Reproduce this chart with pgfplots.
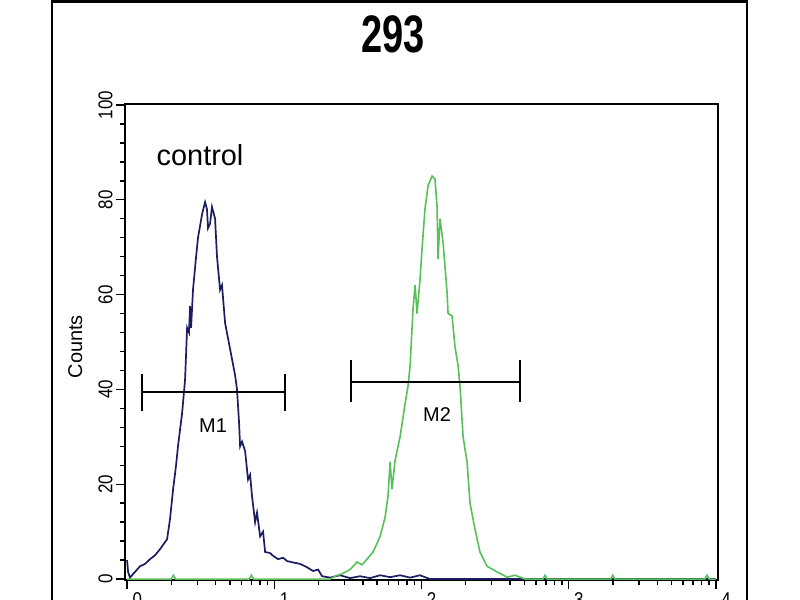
\documentclass[border=0pt]{standalone}
\usepackage{pgfplots}
\pgfplotsset{compat=1.18}
\usepackage{fontspec}
\setmainfont{Liberation Sans}
\newfontfamily\narrowfont[FakeStretch=0.85]{Liberation Sans}
\newfontfamily\titlefont[FakeStretch=0.72]{Liberation Sans}
\definecolor{ctrlblue}{RGB}{28,28,96}
\definecolor{posgreen}{RGB}{88,192,88}
\begin{document}
\begin{tikzpicture}
\path[use as bounding box] (0bp,0bp) rectangle (800bp,600bp);
\draw[line width=2.5bp] (52bp,-30bp) -- (52bp,598.5bp) -- (747bp,598.5bp) -- (747bp,-30bp);
\node[font=\titlefont\bfseries\fontsize{53}{60}\selectfont] at (393bp,566bp) {293};
\begin{axis}[
  at={(125bp,20bp)}, anchor=south west, scale only axis,
  width=593bp, height=476bp,
  xmin=-0.014, xmax=4.015, ymin=-0.2, ymax=100.2,
  axis line style={line width=1.6bp},
  xtick={0,1,2,3,4}, xticklabels={0,1,2,3,4},
  minor xtick={0.301,0.477,0.602,0.699,0.778,0.845,0.903,0.954,
               1.301,1.477,1.602,1.699,1.778,1.845,1.903,1.954,
               2.301,2.477,2.602,2.699,2.778,2.845,2.903,2.954,
               3.301,3.477,3.602,3.699,3.778,3.845,3.903,3.954},
  ytick={0,20,40,60,80,100},
  minor y tick num=4,
  tick align=outside, xtick pos=left, ytick pos=left,
  major tick length=9bp, minor tick length=5bp,
  tick style={black, line width=1.4bp},
  tick label style={font=\narrowfont\fontsize{20}{22}\selectfont},
  /pgf/number format/assume math mode=true,
  yticklabel style={rotate=90, anchor=south},
  xticklabel style={anchor=north west, xshift=2bp},
  ylabel={Counts},
  ylabel style={at={(axis description cs:-0.084,0.49)}, anchor=center, font=\fontsize{20}{22}\selectfont},
]
% control (blue)
\addplot[ctrlblue, line width=1.7bp] coordinates {
(0.000,4.0) (0.007,1.5) (0.020,0.3) (0.054,1.5) (0.088,2.7) (0.122,3.2) (0.156,4.2)
(0.190,5.0) (0.224,6.3) (0.251,7.5) (0.272,8.4) (0.292,12.7) (0.313,19) (0.333,24)
(0.346,28) (0.374,35) (0.394,42) (0.408,53) (0.421,52) (0.428,57.6) (0.435,53)
(0.448,61) (0.469,68) (0.482,72) (0.510,77) (0.530,79.5) (0.543,78) (0.550,74)
(0.564,75) (0.577,78.5) (0.598,76) (0.611,68) (0.632,61) (0.645,62) (0.666,54)
(0.700,48.5) (0.734,43) (0.747,40) (0.761,33) (0.768,28) (0.781,29) (0.802,27)
(0.822,21) (0.836,22) (0.849,17.5) (0.870,12) (0.883,14) (0.904,9) (0.924,10)
(0.938,5.7) (0.971,5.5) (0.992,4.9) (1.026,4.2) (1.060,4.5) (1.087,3.8) (1.128,3.5)
(1.175,3.2) (1.216,2.6) (1.264,1.7) (1.298,2.0) (1.325,0.6) (1.379,0.3) (1.447,0.8)
(1.515,0.2) (1.583,0.6) (1.651,0.2) (1.719,0.8) (1.787,0.4) (1.855,0.8) (1.923,0.3)
(1.990,0.8) (2.058,0) (2.534,0) (4.0,0)
};
% sample (green)
\addplot[posgreen, line width=1.6bp] coordinates {
(0.000,0) (0.300,0) (0.315,0.8) (0.330,0) (0.830,0) (0.845,0.8) (0.860,0) (1.380,0)
(1.413,0.6) (1.467,1.2) (1.515,2.0) (1.562,3.6) (1.596,3.0) (1.630,4.2) (1.671,5.7)
(1.698,7.5) (1.719,9) (1.753,13) (1.773,17.5) (1.787,24.7) (1.800,19) (1.821,25)
(1.834,27) (1.855,30) (1.889,37) (1.909,40.7) (1.923,45) (1.943,57) (1.957,62)
(1.970,56) (1.977,58.5) (1.990,63) (2.004,69.6) (2.024,78) (2.045,83) (2.072,85)
(2.092,84.4) (2.106,78.7) (2.113,67.5) (2.126,76) (2.147,71) (2.174,60.5) (2.181,56)
(2.208,55.5) (2.228,49) (2.249,45) (2.262,40.7) (2.283,30) (2.310,24.7) (2.330,16)
(2.364,10.5) (2.398,5.7) (2.446,2.7) (2.514,1.5) (2.582,0.4) (2.636,0.8) (2.704,0)
(2.825,0) (2.840,0.8) (2.855,0) (3.285,0) (3.300,0.8) (3.315,0) (3.925,0) (3.940,0.8)
(3.955,0) (4.0,0)
};
% M1 marker
\addplot[black, line width=1.6bp] coordinates {(0.102,39.4) (1.073,39.4)};
\addplot[black, line width=1.6bp] coordinates {(0.102,35.5) (0.102,43.2)};
\addplot[black, line width=1.6bp] coordinates {(1.073,35.5) (1.073,43.2)};
% M2 marker
\addplot[black, line width=1.6bp] coordinates {(1.522,41.6) (2.670,41.6)};
\addplot[black, line width=1.6bp] coordinates {(1.522,37.3) (1.522,46.2)};
\addplot[black, line width=1.6bp] coordinates {(2.670,37.3) (2.670,46.2)};
\node[font=\fontsize{20}{22}\selectfont] at (axis cs:0.584,32.3) {M1};
\node[font=\fontsize{20}{22}\selectfont] at (axis cs:2.106,34.8) {M2};
\node[font=\fontsize{29}{32}\selectfont] at (axis cs:0.496,89.5) {control};
\end{axis}
\end{tikzpicture}
\end{document}
